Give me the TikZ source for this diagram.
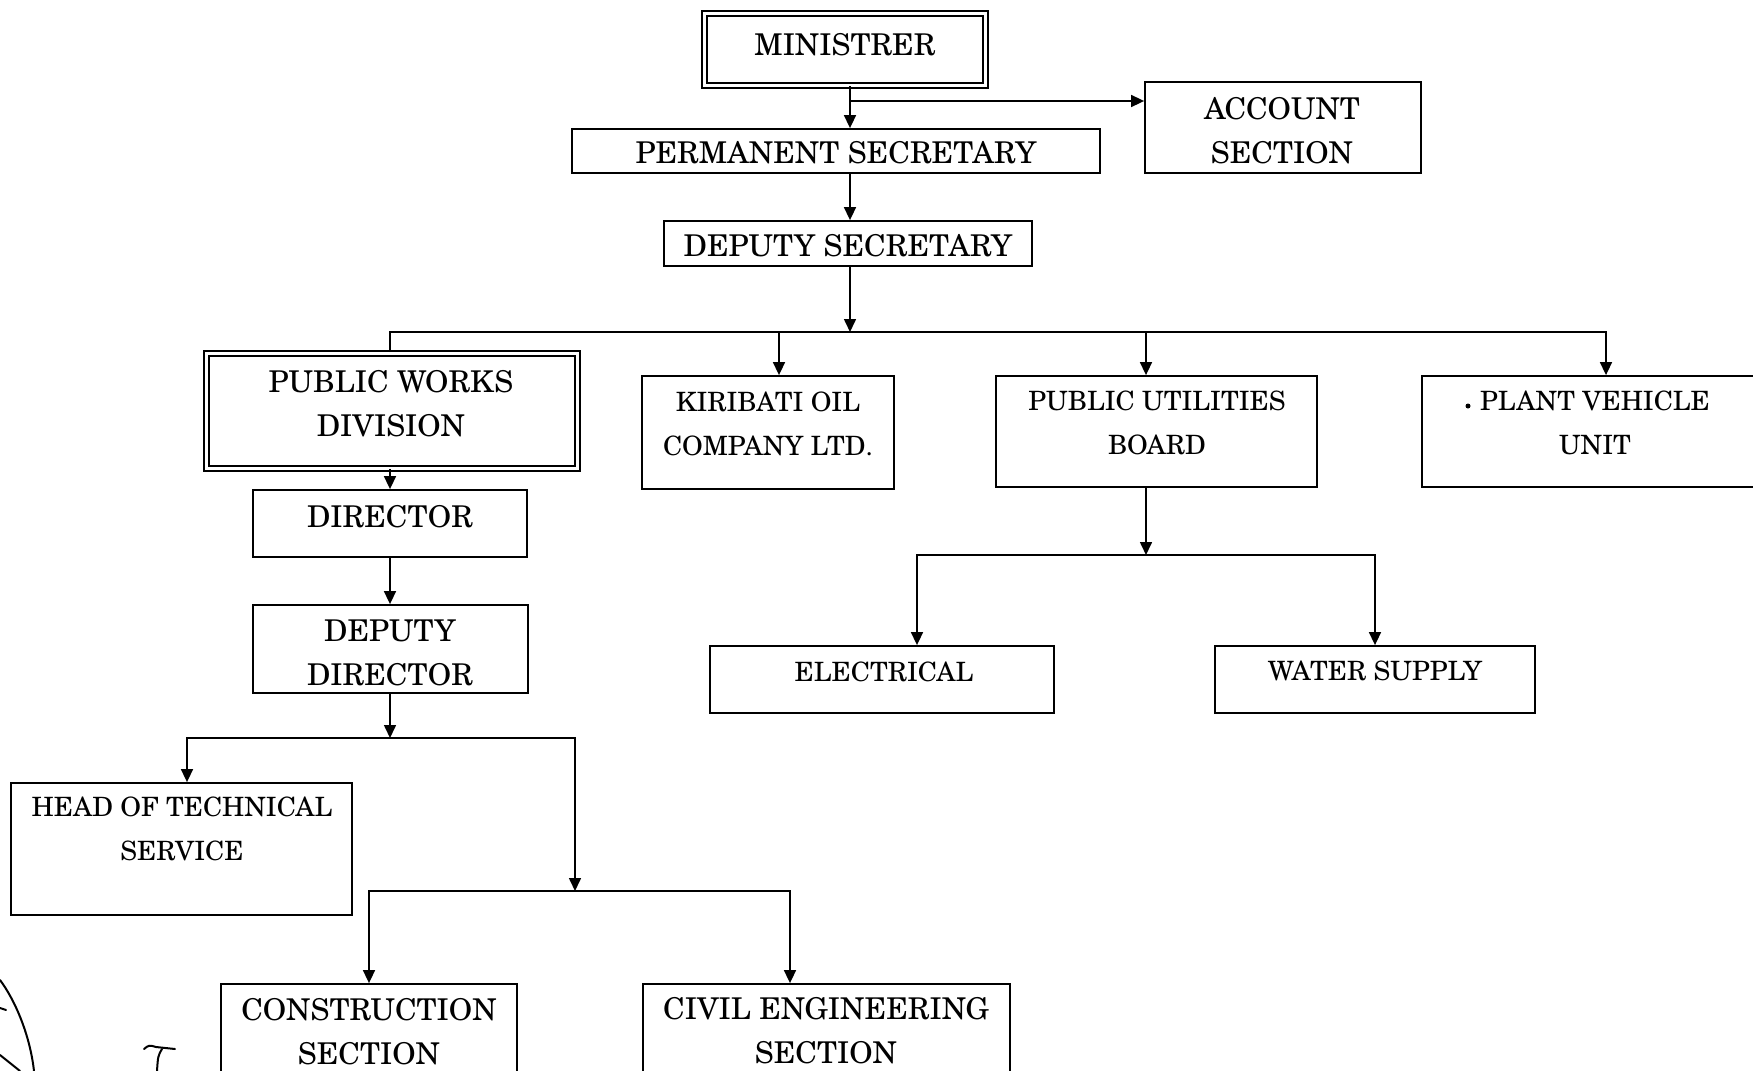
\documentclass[tikz,border=0pt]{standalone}
\usepackage{fontspec}
\setmainfont{texgyreschola-regular.otf}
\usetikzlibrary{arrows.meta,fit}

\begin{document}
\begin{tikzpicture}[x=0.5pt,y=-0.5pt,
  box/.style={draw, line width=0.9pt, inner sep=0pt},
  dbox/.style={box, double, double distance=1.5pt, line width=1pt},
  lbl/.style={align=center, inner sep=0pt, font=\fontsize{15}{22}\selectfont},
  slbl/.style={lbl, font=\fontsize{13.3}{22}\selectfont},
  ln/.style={line width=0.8pt},
  arr/.style={ln, -{Triangle[length=6.5pt,width=6pt]}},
  scribble/.style={line width=1pt, line cap=round}
]
\useasboundingbox (0,0) rectangle (1753,1071);
\fill[white] (0,0) rectangle (1753,1071);

% boxes
\node[dbox, fit={(704,13) (985,85)}] (min) {};
\node[box, fit={(1145,82) (1421,173)}] (acc) {};
\node[box, fit={(572,129) (1100,173)}] (perm) {};
\node[box, fit={(664,221) (1032,266)}] (dsec) {};
\node[dbox, fit={(206,353) (577,468)}] (pwd) {};
\node[box, fit={(642,376) (894,489)}] (kir) {};
\node[box, fit={(996,376) (1317,487)}] (pub) {};
\node[box, fit={(1422,376) (1770,487)}] (plant) {};
\node[box, fit={(253,490) (527,557)}] (dir) {};
\node[box, fit={(253,605) (528,693)}] (ddir) {};
\node[box, fit={(11,783) (352,915)}] (hts) {};
\node[box, fit={(221,984) (517,1090)}] (cons) {};
\node[box, fit={(643,984) (1010,1090)}] (civ) {};
\node[box, fit={(710,646) (1054,713)}] (elec) {};
\node[box, fit={(1215,646) (1535,713)}] (wat) {};

% labels
\node[lbl] (min-t) at (845,45) {MINISTRER};
\node[lbl] (acc-t) at (1282,130.5) {ACCOUNT\\SECTION};
\node[lbl] (perm-t) at (836,153) {PERMANENT SECRETARY};
\node[lbl] (dsec-t) at (848,246) {DEPUTY SECRETARY};
\node[lbl] (pwd-t) at (391,404) {PUBLIC WORKS\\DIVISION};
\node[slbl] (kir-t) at (768,423.5) {KIRIBATI OIL\\COMPANY LTD.};
\node[slbl] (pub-t) at (1157,423) {PUBLIC UTILITIES\\BOARD};
\node[slbl] (plant-t) at (1595,423) {PLANT VEHICLE\\UNIT};
\node[lbl] (dir-t) at (390,517) {DIRECTOR};
\node[lbl] (ddir-t) at (390,653) {DEPUTY\\DIRECTOR};
\node[slbl] (hts-t) at (182,829) {HEAD OF TECHNICAL\\SERVICE};
\node[slbl] (elec-t) at (884,672) {ELECTRICAL};
\node[slbl] (wat-t) at (1375,671) {WATER SUPPLY};
\node[lbl] (cons-t) at (369,1032) {CONSTRUCTION\\SECTION};
\node[lbl] (civ-t) at (826,1030.5) {CIVIL ENGINEERING\\SECTION};

% junction points
\coordinate (jm) at (850,101);
\coordinate (j1) at (850,332);
\coordinate (j1l) at (390,332);
\coordinate (j1k) at (779,332);
\coordinate (j1p) at (1146,332);
\coordinate (j1r) at (1606,332);
\coordinate (j2) at (390,738);
\coordinate (j2l) at (187,738);
\coordinate (j2r) at (575,738);
\coordinate (j3) at (575,891);
\coordinate (j3l) at (369,891);
\coordinate (j3r) at (790,891);
\coordinate (j4) at (1146,555);
\coordinate (j4l) at (917,555);
\coordinate (j4r) at (1375,555);

% minister and secretaries
\draw[ln] (min.south -| jm) -- (jm);
\draw[arr] (jm) -- (perm.north -| jm);
\draw[arr] (jm) -- (acc.west |- jm);
\draw[arr] (perm.south -| jm) -- (dsec.north -| jm);
\draw[arr] (dsec.south -| j1) -- (j1);

% first level divisions
\draw[ln] (pwd.north -| j1l) -- (j1l) -- (j1r);
\draw[arr] (j1k) -- (kir.north -| j1k);
\draw[arr] (j1p) -- (pub.north -| j1p);
\draw[arr] (j1l) -- (j1r) -- (plant.north -| j1r);

% public works chain
\draw[arr] (pwd.south -| j2) -- (dir.north -| j2);
\draw[arr] (dir.south -| j2) -- (ddir.north -| j2);
\draw[arr] (ddir.south -| j2) -- (j2);
\draw[arr] (j2r) -- (j2l) -- (hts.north -| j2l);
\draw[arr] (j2l) -- (j2r) -- (j3);
\draw[arr] (j3r) -- (j3l) -- (cons.north -| j3l);
\draw[arr] (j3l) -- (j3r) -- (civ.north -| j3r);

% public utilities branch
\draw[arr] (pub.south -| j4) -- (j4);
\draw[arr] (j4r) -- (j4l) -- (elec.north -| j4l);
\draw[arr] (j4l) -- (j4r) -- (wat.north -| j4r);

% stray pen marks
\fill (1468,406) circle (2.5);
\draw[scribble] (0,980) .. controls (15,1000) and (30,1035) .. (34,1071);
\draw[scribble] (0,1008) -- (6,1010);
\draw[scribble] (0,1055) -- (20,1071);
\draw[scribble] (144,1049) .. controls (149,1045) .. (156,1047) -- (175,1049);
\draw[scribble] (162,1049) .. controls (158,1056) .. (157,1071);
\end{tikzpicture}
\end{document}
